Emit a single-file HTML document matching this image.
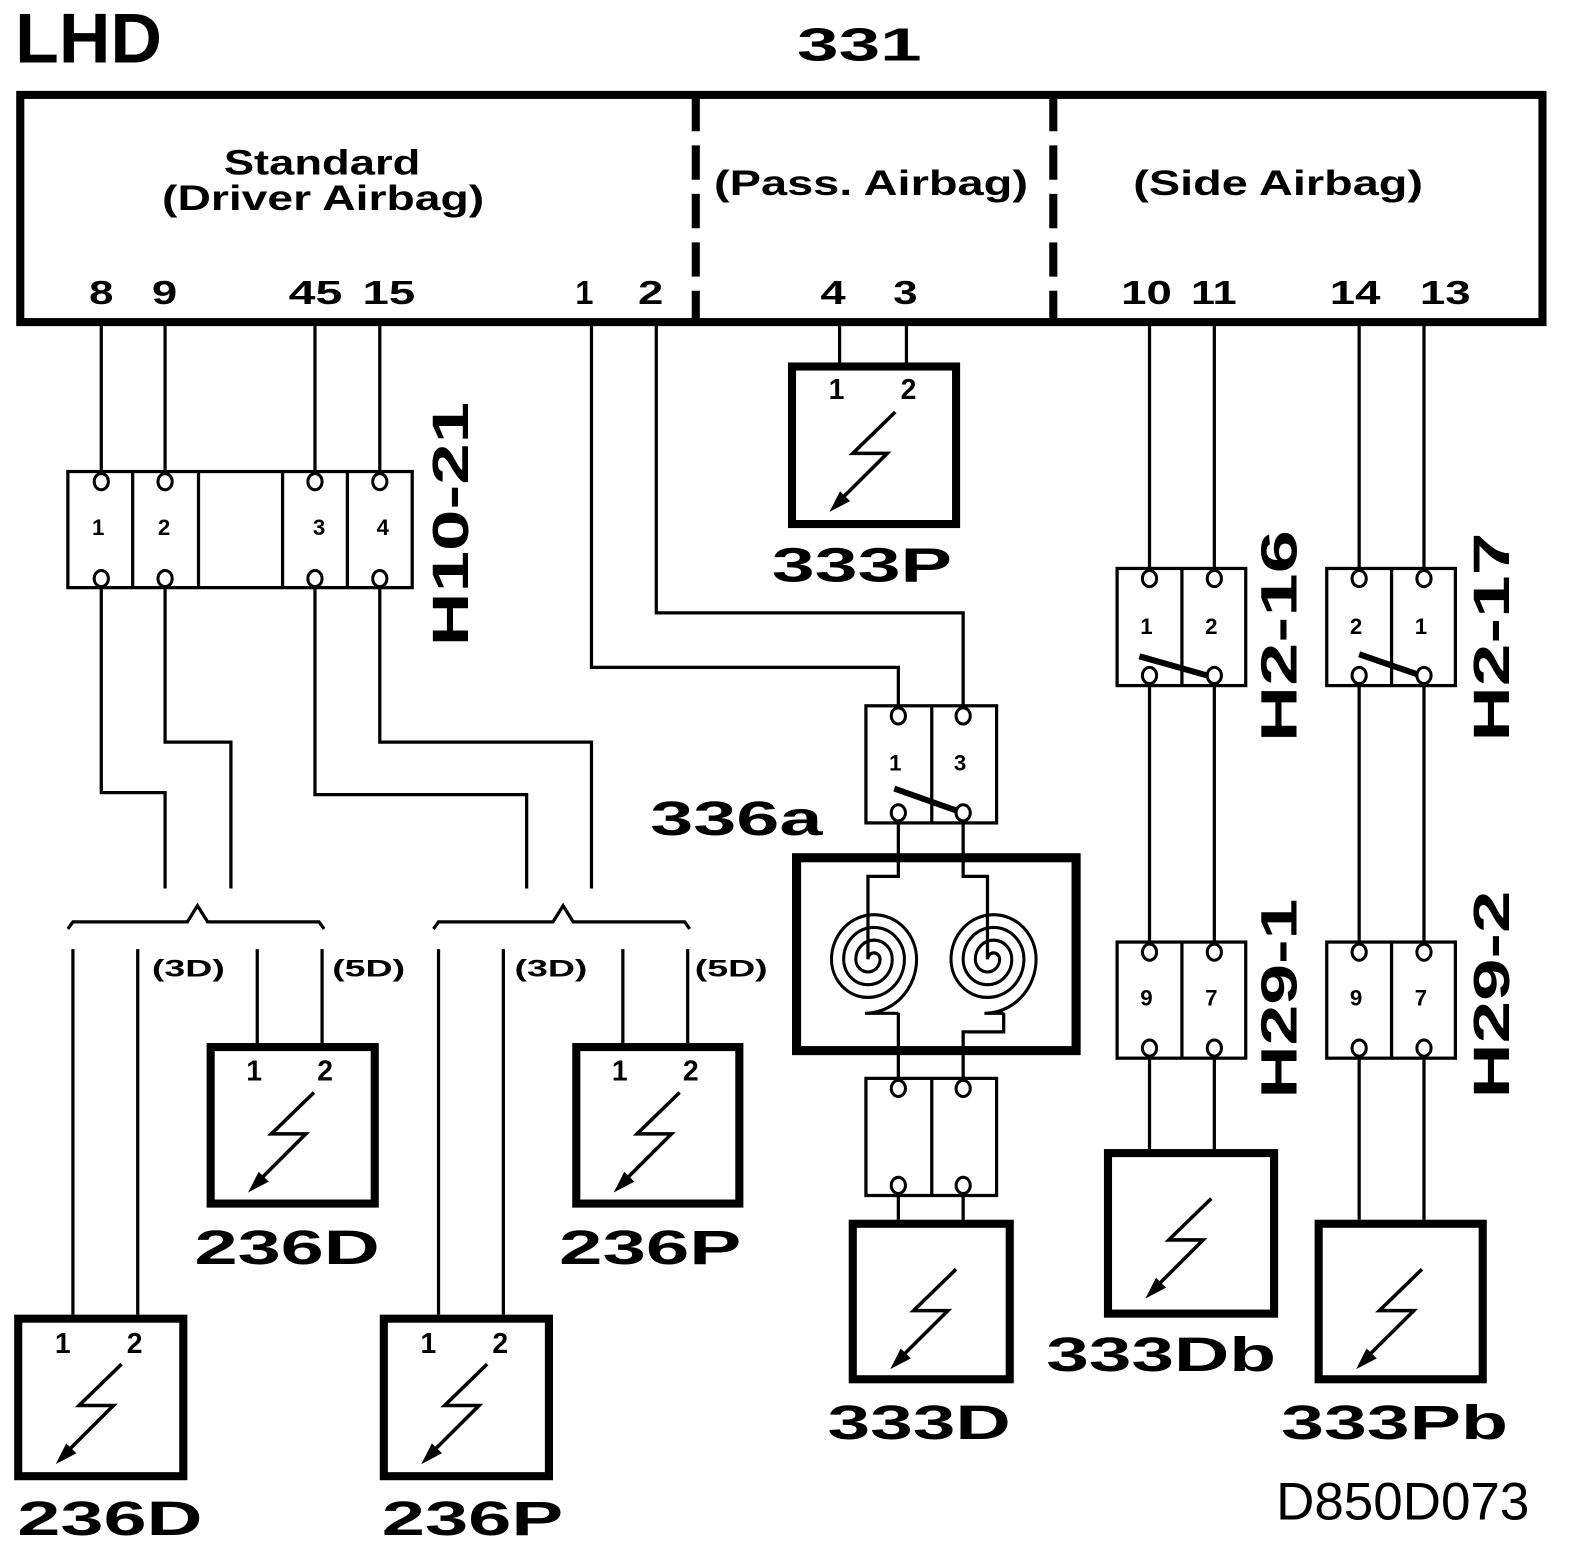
<!DOCTYPE html>
<html><head><meta charset="utf-8"><style>
html,body{margin:0;padding:0;background:#fff;}
svg{display:block;}
text{font-family:"Liberation Sans",sans-serif;font-weight:bold;fill:#000;}
</style></head><body>
<svg width="1584" height="1560" viewBox="0 0 1564 1545" preserveAspectRatio="none" xmlns="http://www.w3.org/2000/svg">
<defs>
<g id="bolt">
<polyline points="106,49 64,90 98,90 52,136" fill="none" stroke="#000" stroke-width="3.5"/>
<polygon points="41,148 61.4,137.3 51.4,127.5" fill="#000"/>
</g>
</defs>
<g fill="none" stroke="#000" stroke-width="3.2">
<rect x="20" y="94" width="1503" height="225" stroke-width="8"/>
<line x1="687" y1="96" x2="687" y2="318" stroke-width="8" stroke-dasharray="34,14"/>
<line x1="1040" y1="96" x2="1040" y2="318" stroke-width="8" stroke-dasharray="34,14"/>

<path d="M100,323V467M163,323V467M311,323V467M375,323V467"/>
<rect x="67" y="467" width="340" height="115"/>
<path d="M131,467V582M196,467V582M279,467V582M343,467V582"/>
<path d="M100,582V785H163V880M163,582V735H228V880M311,582V787H520V880M375,582V735H584V880"/>
<path d="M67,920L72,913H185L195,897L205,913H315L320,920"/>
<path d="M428,920L433,913H546L556,897L566,913H676L681,920"/>
<path d="M72,940V1302M136,940V1302M254,940V1033M318,940V1033"/>
<path d="M433,940V1302M497,940V1302M615,940V1033M679,940V1033"/>

<path d="M829,323V359M895,323V359"/>
<path d="M584,323V661H887V699M648,323V607H951V699"/>
<rect x="855" y="699" width="129" height="116"/>
<line x1="920" y1="699" x2="920" y2="815"/>
<path d="M887,815V868H857V950M951,815V868H975V950"/>
<path d="M887,1003V1068M951,1068V1022H991V1003"/>
<rect x="855" y="1068" width="129" height="116"/>
<line x1="920" y1="1068" x2="920" y2="1184"/>
<path d="M887,1184V1208M951,1184V1208"/>

<path d="M1135,323V563M1199,323V563M1342,323V563M1406,323V563"/>
<rect x="1103" y="563" width="127" height="116"/>
<line x1="1167" y1="563" x2="1167" y2="679"/>
<rect x="1310" y="563" width="127" height="116"/>
<line x1="1374" y1="563" x2="1374" y2="679"/>
<path d="M1135,679V933M1199,679V933M1342,679V933M1406,679V933"/>
<rect x="1103" y="933" width="127" height="115"/>
<line x1="1167" y1="933" x2="1167" y2="1048"/>
<rect x="1310" y="933" width="127" height="115"/>
<line x1="1374" y1="933" x2="1374" y2="1048"/>
<path d="M1135,1048V1138M1199,1048V1138M1342,1048V1208M1406,1048V1208"/>

<g stroke-width="8">
<rect x="782" y="363" width="162" height="156"/>
<rect x="208" y="1037" width="162" height="155"/>
<rect x="569" y="1037" width="161" height="155"/>
<rect x="18" y="1306" width="163" height="156"/>
<rect x="379" y="1306" width="163" height="156"/>
<rect x="842" y="1212" width="155" height="154"/>
<rect x="1094" y="1142" width="164" height="159"/>
<rect x="1302" y="1212" width="162" height="154"/>
</g>
<rect x="786.5" y="849.5" width="276" height="191" stroke-width="9"/>
<g transform="translate(857,950) scale(1,1.05)"><path stroke-width="3" d="M0,0 A6,6 0 0 1 12,0 A12,12 0 0 1 -12,0 A18,18 0 0 1 24,0 A24,24 0 0 1 -24,0 A30,30 0 0 1 36,0 A36,36 0 0 1 -36,0 A42,42 0 0 1 48,0 A51,51 0 0 1 -3,51 L30,51"/></g>
<g transform="translate(975,950) scale(1,1.05)"><path stroke-width="3" d="M0,0 A6,6 0 0 1 12,0 A12,12 0 0 1 -12,0 A18,18 0 0 1 24,0 A24,24 0 0 1 -24,0 A30,30 0 0 1 36,0 A36,36 0 0 1 -36,0 A42,42 0 0 1 48,0 A51,51 0 0 1 -3,51 L16,51"/></g>
</g>

<g fill="#fff" stroke="#000" stroke-width="3">
<ellipse cx="100" cy="477" rx="7" ry="8"/><ellipse cx="163" cy="477" rx="7" ry="8"/><ellipse cx="311" cy="477" rx="7" ry="8"/><ellipse cx="375" cy="477" rx="7" ry="8"/>
<ellipse cx="100" cy="573" rx="7" ry="8"/><ellipse cx="163" cy="573" rx="7" ry="8"/><ellipse cx="311" cy="573" rx="7" ry="8"/><ellipse cx="375" cy="573" rx="7" ry="8"/>
<ellipse cx="887" cy="709" rx="7" ry="8"/><ellipse cx="951" cy="709" rx="7" ry="8"/><ellipse cx="887" cy="805" rx="7" ry="8"/><ellipse cx="951" cy="805" rx="7" ry="8"/>
<ellipse cx="887" cy="1078" rx="7" ry="8"/><ellipse cx="951" cy="1078" rx="7" ry="8"/><ellipse cx="887" cy="1174" rx="7" ry="8"/><ellipse cx="951" cy="1174" rx="7" ry="8"/>
<ellipse cx="1135" cy="573" rx="7" ry="8"/><ellipse cx="1199" cy="573" rx="7" ry="8"/><ellipse cx="1135" cy="669" rx="7" ry="8"/><ellipse cx="1199" cy="669" rx="7" ry="8"/>
<ellipse cx="1342" cy="573" rx="7" ry="8"/><ellipse cx="1406" cy="573" rx="7" ry="8"/><ellipse cx="1342" cy="669" rx="7" ry="8"/><ellipse cx="1406" cy="669" rx="7" ry="8"/>
<ellipse cx="1135" cy="943" rx="7" ry="8"/><ellipse cx="1199" cy="943" rx="7" ry="8"/><ellipse cx="1135" cy="1038" rx="7" ry="8"/><ellipse cx="1199" cy="1038" rx="7" ry="8"/>
<ellipse cx="1342" cy="943" rx="7" ry="8"/><ellipse cx="1406" cy="943" rx="7" ry="8"/><ellipse cx="1342" cy="1038" rx="7" ry="8"/><ellipse cx="1406" cy="1038" rx="7" ry="8"/>
</g>
<g stroke="#000" stroke-width="6">
<line x1="883" y1="781" x2="945" y2="803"/>
<line x1="1125" y1="650" x2="1192" y2="669"/>
<line x1="1342" y1="648" x2="1400" y2="668"/>
</g>

<use href="#bolt" x="778" y="359"/>
<use href="#bolt" x="204" y="1033"/>
<use href="#bolt" x="565" y="1033"/>
<use href="#bolt" x="14" y="1302"/>
<use href="#bolt" x="375" y="1302"/>
<use href="#bolt" x="838" y="1208"/>
<use href="#bolt" x="1090" y="1138"/>
<use href="#bolt" x="1298" y="1208"/>

<text x="15" y="62" font-size="70" textLength="145" lengthAdjust="spacingAndGlyphs">LHD</text>
<text x="787" y="60" font-size="46" textLength="123" lengthAdjust="spacingAndGlyphs">331</text>
<text x="221" y="173" font-size="35" textLength="194" lengthAdjust="spacingAndGlyphs">Standard</text>
<text x="160" y="208" font-size="35" textLength="318" lengthAdjust="spacingAndGlyphs">(Driver Airbag)</text>
<text x="705" y="193" font-size="35" textLength="310" lengthAdjust="spacingAndGlyphs">(Pass. Airbag)</text>
<text x="1119" y="193" font-size="35" textLength="286" lengthAdjust="spacingAndGlyphs">(Side Airbag)</text>
<g font-size="33">
<text x="88" y="301" textLength="24" lengthAdjust="spacingAndGlyphs">8</text>
<text x="150" y="301" textLength="25" lengthAdjust="spacingAndGlyphs">9</text>
<text x="285" y="301" textLength="53" lengthAdjust="spacingAndGlyphs">45</text>
<text x="358" y="301" textLength="52" lengthAdjust="spacingAndGlyphs">15</text>
<text x="568" y="301" textLength="18" lengthAdjust="spacingAndGlyphs">1</text>
<text x="630" y="301" textLength="25" lengthAdjust="spacingAndGlyphs">2</text>
<text x="810" y="301" textLength="25" lengthAdjust="spacingAndGlyphs">4</text>
<text x="882" y="301" textLength="24" lengthAdjust="spacingAndGlyphs">3</text>
<text x="1107" y="301" textLength="50" lengthAdjust="spacingAndGlyphs">10</text>
<text x="1176" y="301" textLength="45" lengthAdjust="spacingAndGlyphs">11</text>
<text x="1313" y="301" textLength="50" lengthAdjust="spacingAndGlyphs">14</text>
<text x="1402" y="301" textLength="50" lengthAdjust="spacingAndGlyphs">13</text>
</g>
<g font-size="22" text-anchor="middle">
<text x="97" y="530">1</text><text x="162" y="530">2</text><text x="315" y="530">3</text><text x="378" y="530">4</text>
<text x="884" y="763">1</text><text x="948" y="763">3</text>
<text x="1132" y="628">1</text><text x="1196" y="628">2</text>
<text x="1339" y="628">2</text><text x="1403" y="628">1</text>
<text x="1132" y="996">9</text><text x="1196" y="996">7</text>
<text x="1339" y="996">9</text><text x="1403" y="996">7</text>
</g>
<g font-size="28" text-anchor="middle">
<text x="826" y="395">1</text><text x="897" y="395">2</text>
<text x="251" y="1070">1</text><text x="321" y="1070">2</text>
<text x="612" y="1070">1</text><text x="682" y="1070">2</text>
<text x="62" y="1340">1</text><text x="133" y="1340">2</text>
<text x="423" y="1340">1</text><text x="494" y="1340">2</text>
</g>
<g font-size="24">
<text x="150" y="967" textLength="72" lengthAdjust="spacingAndGlyphs">(3D)</text>
<text x="328" y="967" textLength="72" lengthAdjust="spacingAndGlyphs">(5D)</text>
<text x="508" y="967" textLength="72" lengthAdjust="spacingAndGlyphs">(3D)</text>
<text x="686" y="967" textLength="72" lengthAdjust="spacingAndGlyphs">(5D)</text>
</g>
<g font-size="48">
<text x="762" y="576" textLength="178" lengthAdjust="spacingAndGlyphs">333P</text>
<text x="642" y="827" textLength="170" lengthAdjust="spacingAndGlyphs">336a</text>
<text x="192" y="1252" textLength="183" lengthAdjust="spacingAndGlyphs">236D</text>
<text x="552" y="1252" textLength="180" lengthAdjust="spacingAndGlyphs">236P</text>
<text x="17" y="1520" textLength="183" lengthAdjust="spacingAndGlyphs">236D</text>
<text x="377" y="1520" textLength="179" lengthAdjust="spacingAndGlyphs">236P</text>
<text x="817" y="1425" textLength="181" lengthAdjust="spacingAndGlyphs">333D</text>
<text x="1033" y="1358" textLength="227" lengthAdjust="spacingAndGlyphs">333Db</text>
<text x="1265" y="1425" textLength="224" lengthAdjust="spacingAndGlyphs">333Pb</text>
</g>
<text x="1260" y="1505" font-size="52" style="font-weight:normal" textLength="250" lengthAdjust="spacingAndGlyphs">D850D073</text>
<g font-size="50" text-anchor="middle">
<text transform="translate(462,519) rotate(-90)" x="0" y="0" textLength="242" lengthAdjust="spacingAndGlyphs">H10-21</text>
<text transform="translate(1280,630) rotate(-90)" x="0" y="0" textLength="210" lengthAdjust="spacingAndGlyphs">H2-16</text>
<text transform="translate(1490,631) rotate(-90)" x="0" y="0" textLength="207" lengthAdjust="spacingAndGlyphs">H2-17</text>
<text transform="translate(1280,989) rotate(-90)" x="0" y="0" textLength="198" lengthAdjust="spacingAndGlyphs">H29-1</text>
<text transform="translate(1490,985) rotate(-90)" x="0" y="0" textLength="206" lengthAdjust="spacingAndGlyphs">H29-2</text>
</g>
</svg>
</body></html>
